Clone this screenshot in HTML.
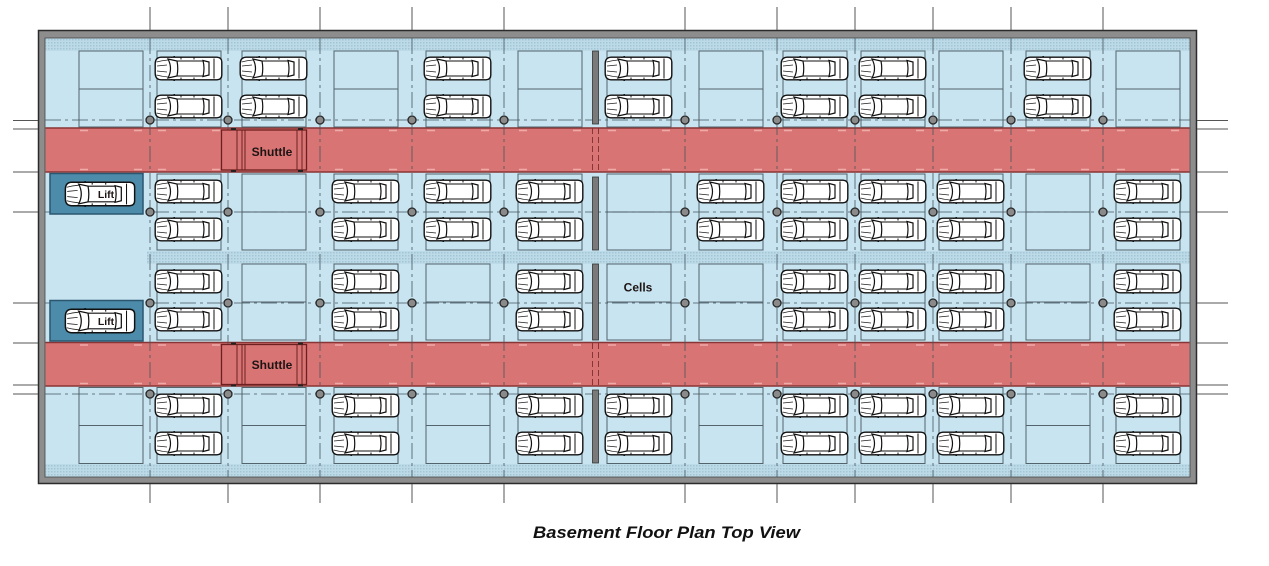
<!DOCTYPE html>
<html><head><meta charset="utf-8"><style>
html,body{margin:0;padding:0;background:#fff;}
svg{display:block;}
.cell{fill:none;stroke:#53646c;stroke-width:1;}
.gd{stroke:#46565e;stroke-width:0.8;fill:none;stroke-dasharray:16 4 3 4;}
.gs{stroke:#555;stroke-width:1;fill:none;}
.col{fill:#8a8a8a;stroke:#262626;stroke-width:1.3;}
.lbl{font-family:"Liberation Sans",Arial,sans-serif;font-weight:bold;fill:#1e1414;}
</style></head><body>
<svg width="1269" height="566" viewBox="0 0 1269 566" xmlns="http://www.w3.org/2000/svg" xmlns:xlink="http://www.w3.org/1999/xlink">
<defs>
<pattern id="hatch" width="3" height="3" patternUnits="userSpaceOnUse">
<rect width="3" height="3" fill="#bcdae7"/>
<rect width="1.5" height="1.5" fill="#a3c6d6"/>
</pattern>
<symbol id="car" viewBox="0 0 69 25">
<path d="M7,1.2 L63,1.2 Q67.8,1.5 67.8,6 L67.8,19 Q67.8,23.5 63,23.8 L7,23.8 Q1.2,23.5 1.2,17 L1.2,8 Q1.2,1.5 7,1.2Z" fill="#fff" stroke="#111" stroke-width="1.4"/>
<path d="M2.5,6 Q8,4.5 14,4 M2.5,19 Q8,20.5 14,21 M3,10 L13,9 M3,15 L13,16" stroke="#222" stroke-width="0.8" fill="none"/>
<path d="M14,3 Q19,12.5 14,22 L23,20 Q24.5,12.5 23,5 Z" fill="#fff" stroke="#111" stroke-width="1.2"/>
<path d="M23,5 L49,5 M23,20 L49,20" stroke="#111" stroke-width="1" fill="none"/>
<path d="M49,4.5 Q51,12.5 49,20.5 L55,19 L55,6 Z" fill="#fff" stroke="#111" stroke-width="1.2"/>
<path d="M60,2.5 L60,22.5 M27,1.2 L27,3.5 M40,1.2 L40,3.5 M27,23.8 L27,21.5 M40,23.8 L40,21.5 M17,1.5 L21,0.3 M17,23.5 L21,24.7" stroke="#111" stroke-width="1" fill="none"/>
</symbol>
<g id="co"><rect class="cell" x="0" y="0" width="64" height="76"/></g>
<g id="ce"><rect class="cell" x="0" y="0" width="64" height="76"/><line class="cell" x1="0" y1="38" x2="64" y2="38"/></g>
<g id="cp"><use href="#car" xlink:href="#car" x="-3" y="5" width="69" height="25"/><use href="#car" xlink:href="#car" x="-3" y="43" width="69" height="25"/></g>
<path id="pd" d="M80,0 h8 M134,0 h8 M158,0 h8 M212,0 h8 M243,0 h8 M297,0 h8 M335,0 h8 M389,0 h8 M427,0 h8 M481,0 h8 M519,0 h8 M573,0 h8 M608,0 h8 M662,0 h8 M700,0 h8 M754,0 h8 M784,0 h8 M838,0 h8 M862,0 h8 M916,0 h8 M940,0 h8 M994,0 h8 M1027,0 h8 M1081,0 h8 M1117,0 h8 M1171,0 h8" stroke="#efaaaa" stroke-width="1.6" fill="none"/>
<g id="shuttle">
<rect x="221.5" y="0" width="85" height="40" fill="#d87474" stroke="#6e2020" stroke-width="1.3"/>
<path d="M237,0 V40 M242,0 V40 M245,0 V40 M297,0 V40 M302,0 V40" stroke="#6e2020" stroke-width="1" fill="none"/>
<path d="M231,-1 h5 M298,-1 h5 M231,41 h5 M298,41 h5" stroke="#222" stroke-width="2"/>
</g>
</defs>

<rect x="38.5" y="30.5" width="1158" height="453" fill="#8d8d8d" stroke="#2b2b2b" stroke-width="1.5"/>
<rect x="45" y="38" width="1145" height="439" fill="#c7e4f0" stroke="#444" stroke-width="0.8"/>

<rect x="45.5" y="38.5" width="1144" height="12.5" fill="url(#hatch)"/>
<rect x="45.5" y="464" width="1144" height="12.5" fill="url(#hatch)"/>
<rect x="147" y="251" width="1042.5" height="13" fill="url(#hatch)"/>

<rect x="45.5" y="128" width="1144" height="44" fill="#d87474"/>
<rect x="45.5" y="342.5" width="1144" height="43.5" fill="#d87474"/>
<path d="M45.5,128 H1189.5 M45.5,172 H1189.5 M45.5,342.5 H1189.5 M45.5,386 H1189.5" stroke="#8a3535" stroke-width="1.6" fill="none"/>
<use href="#pd" xlink:href="#pd" y="130.5"/>
<use href="#pd" xlink:href="#pd" y="169.5"/>
<use href="#pd" xlink:href="#pd" y="345"/>
<use href="#pd" xlink:href="#pd" y="383.5"/>
<path d="M592.5,128 V172 M598.5,128 V172 M592.5,343 V386 M598.5,343 V386" stroke="#8a3535" stroke-width="1" stroke-dasharray="6 3" fill="none"/>

<use href="#co" xlink:href="#co" x="157" y="51"/><use href="#co" xlink:href="#co" x="242" y="51"/><use href="#co" xlink:href="#co" x="426" y="51"/><use href="#co" xlink:href="#co" x="607" y="51"/><use href="#co" xlink:href="#co" x="783" y="51"/><use href="#co" xlink:href="#co" x="861" y="51"/><use href="#co" xlink:href="#co" x="1026" y="51"/>
<use href="#ce" xlink:href="#ce" x="79" y="51"/><use href="#ce" xlink:href="#ce" x="334" y="51"/><use href="#ce" xlink:href="#ce" x="518" y="51"/><use href="#ce" xlink:href="#ce" x="699" y="51"/><use href="#ce" xlink:href="#ce" x="939" y="51"/><use href="#ce" xlink:href="#ce" x="1116" y="51"/>
<use href="#co" xlink:href="#co" x="157" y="174"/><use href="#co" xlink:href="#co" x="334" y="174"/><use href="#co" xlink:href="#co" x="426" y="174"/><use href="#co" xlink:href="#co" x="518" y="174"/><use href="#co" xlink:href="#co" x="699" y="174"/><use href="#co" xlink:href="#co" x="783" y="174"/><use href="#co" xlink:href="#co" x="861" y="174"/><use href="#co" xlink:href="#co" x="939" y="174"/><use href="#co" xlink:href="#co" x="1116" y="174"/>
<use href="#ce" xlink:href="#ce" x="242" y="174"/><use href="#ce" xlink:href="#ce" x="607" y="174"/><use href="#ce" xlink:href="#ce" x="1026" y="174"/>
<use href="#co" xlink:href="#co" x="157" y="264"/><use href="#co" xlink:href="#co" x="334" y="264"/><use href="#co" xlink:href="#co" x="518" y="264"/><use href="#co" xlink:href="#co" x="783" y="264"/><use href="#co" xlink:href="#co" x="861" y="264"/><use href="#co" xlink:href="#co" x="939" y="264"/><use href="#co" xlink:href="#co" x="1116" y="264"/>
<use href="#ce" xlink:href="#ce" x="242" y="264"/><use href="#ce" xlink:href="#ce" x="426" y="264"/><use href="#ce" xlink:href="#ce" x="607" y="264"/><use href="#ce" xlink:href="#ce" x="699" y="264"/><use href="#ce" xlink:href="#ce" x="1026" y="264"/>
<use href="#co" xlink:href="#co" x="157" y="387.5"/><use href="#co" xlink:href="#co" x="334" y="387.5"/><use href="#co" xlink:href="#co" x="518" y="387.5"/><use href="#co" xlink:href="#co" x="607" y="387.5"/><use href="#co" xlink:href="#co" x="783" y="387.5"/><use href="#co" xlink:href="#co" x="861" y="387.5"/><use href="#co" xlink:href="#co" x="939" y="387.5"/><use href="#co" xlink:href="#co" x="1116" y="387.5"/>
<use href="#ce" xlink:href="#ce" x="79" y="387.5"/><use href="#ce" xlink:href="#ce" x="242" y="387.5"/><use href="#ce" xlink:href="#ce" x="426" y="387.5"/><use href="#ce" xlink:href="#ce" x="699" y="387.5"/><use href="#ce" xlink:href="#ce" x="1026" y="387.5"/>

<path class="gd" d="M45,120 H1190 M45,212 H1190 M45,303 H1190 M45,394 H1190"/>
<path class="gd" d="M150,38 V477 M228,38 V477 M320,38 V477 M412,38 V477 M504,38 V477 M685,38 V477 M777,38 V477 M855,38 V477 M933,38 V477 M1011,38 V477 M1103,38 V477"/>
<path class="gs" d="M150,7 V30 M228,7 V30 M320,7 V30 M412,7 V30 M504,7 V30 M685,7 V30 M777,7 V30 M855,7 V30 M933,7 V30 M1011,7 V30 M1103,7 V30"/>
<path class="gs" d="M150,484 V503 M228,484 V503 M320,484 V503 M412,484 V503 M504,484 V503 M685,484 V503 M777,484 V503 M855,484 V503 M933,484 V503 M1011,484 V503 M1103,484 V503"/>
<path class="gs" d="M13,120.5 H38 M13,129 H38 M13,172 H38 M13,212 H38 M13,303 H38 M13,343 H38 M13,385 H38 M13,394 H38"/>
<path class="gs" d="M1197,120.5 H1228 M1197,129 H1228 M1197,172 H1228 M1197,212 H1228 M1197,303 H1228 M1197,343 H1228 M1197,385 H1228 M1197,394 H1228"/>

<g fill="#7a7a7a" stroke="#333" stroke-width="0.8">
<rect x="592.5" y="51" width="6" height="73"/>
<rect x="592.5" y="177" width="6" height="73"/>
<rect x="592.5" y="264" width="6" height="76"/>
<rect x="592.5" y="390" width="6" height="73"/>
</g>

<g class="col">
<circle cx="150" cy="120" r="4"/><circle cx="228" cy="120" r="4"/><circle cx="320" cy="120" r="4"/><circle cx="412" cy="120" r="4"/><circle cx="504" cy="120" r="4"/><circle cx="685" cy="120" r="4"/><circle cx="777" cy="120" r="4"/><circle cx="855" cy="120" r="4"/><circle cx="933" cy="120" r="4"/><circle cx="1011" cy="120" r="4"/><circle cx="1103" cy="120" r="4"/>
<circle cx="150" cy="212" r="4"/><circle cx="228" cy="212" r="4"/><circle cx="320" cy="212" r="4"/><circle cx="412" cy="212" r="4"/><circle cx="504" cy="212" r="4"/><circle cx="685" cy="212" r="4"/><circle cx="777" cy="212" r="4"/><circle cx="855" cy="212" r="4"/><circle cx="933" cy="212" r="4"/><circle cx="1011" cy="212" r="4"/><circle cx="1103" cy="212" r="4"/>
<circle cx="150" cy="303" r="4"/><circle cx="228" cy="303" r="4"/><circle cx="320" cy="303" r="4"/><circle cx="412" cy="303" r="4"/><circle cx="504" cy="303" r="4"/><circle cx="685" cy="303" r="4"/><circle cx="777" cy="303" r="4"/><circle cx="855" cy="303" r="4"/><circle cx="933" cy="303" r="4"/><circle cx="1011" cy="303" r="4"/><circle cx="1103" cy="303" r="4"/>
<circle cx="150" cy="394" r="4"/><circle cx="228" cy="394" r="4"/><circle cx="320" cy="394" r="4"/><circle cx="412" cy="394" r="4"/><circle cx="504" cy="394" r="4"/><circle cx="685" cy="394" r="4"/><circle cx="777" cy="394" r="4"/><circle cx="855" cy="394" r="4"/><circle cx="933" cy="394" r="4"/><circle cx="1011" cy="394" r="4"/><circle cx="1103" cy="394" r="4"/>
</g>

<use href="#cp" xlink:href="#cp" x="157" y="51"/><use href="#cp" xlink:href="#cp" x="242" y="51"/><use href="#cp" xlink:href="#cp" x="426" y="51"/><use href="#cp" xlink:href="#cp" x="607" y="51"/><use href="#cp" xlink:href="#cp" x="783" y="51"/><use href="#cp" xlink:href="#cp" x="861" y="51"/><use href="#cp" xlink:href="#cp" x="1026" y="51"/>
<use href="#cp" xlink:href="#cp" x="157" y="174"/><use href="#cp" xlink:href="#cp" x="334" y="174"/><use href="#cp" xlink:href="#cp" x="426" y="174"/><use href="#cp" xlink:href="#cp" x="518" y="174"/><use href="#cp" xlink:href="#cp" x="699" y="174"/><use href="#cp" xlink:href="#cp" x="783" y="174"/><use href="#cp" xlink:href="#cp" x="861" y="174"/><use href="#cp" xlink:href="#cp" x="939" y="174"/><use href="#cp" xlink:href="#cp" x="1116" y="174"/>
<use href="#cp" xlink:href="#cp" x="157" y="264"/><use href="#cp" xlink:href="#cp" x="334" y="264"/><use href="#cp" xlink:href="#cp" x="518" y="264"/><use href="#cp" xlink:href="#cp" x="783" y="264"/><use href="#cp" xlink:href="#cp" x="861" y="264"/><use href="#cp" xlink:href="#cp" x="939" y="264"/><use href="#cp" xlink:href="#cp" x="1116" y="264"/>
<use href="#cp" xlink:href="#cp" x="157" y="388"/><use href="#cp" xlink:href="#cp" x="334" y="388"/><use href="#cp" xlink:href="#cp" x="518" y="388"/><use href="#cp" xlink:href="#cp" x="607" y="388"/><use href="#cp" xlink:href="#cp" x="783" y="388"/><use href="#cp" xlink:href="#cp" x="861" y="388"/><use href="#cp" xlink:href="#cp" x="939" y="388"/><use href="#cp" xlink:href="#cp" x="1116" y="388"/>

<rect x="50" y="173.5" width="93" height="40.5" fill="#4c8caa" stroke="#2a5670" stroke-width="1.5"/>
<use href="#car" xlink:href="#car" x="63" y="181" width="74" height="26"/>
<text class="lbl" x="106" y="198" font-size="10.5" text-anchor="middle">Lift</text>
<rect x="50" y="300.5" width="93" height="40.5" fill="#4c8caa" stroke="#2a5670" stroke-width="1.5"/>
<use href="#car" xlink:href="#car" x="63" y="308" width="74" height="26"/>
<text class="lbl" x="106" y="325" font-size="10.5" text-anchor="middle">Lift</text>

<use href="#shuttle" xlink:href="#shuttle" y="130"/>
<text class="lbl" x="272" y="156" font-size="12" text-anchor="middle">Shuttle</text>
<use href="#shuttle" xlink:href="#shuttle" y="344.5"/>
<text class="lbl" x="272" y="369" font-size="12" text-anchor="middle">Shuttle</text>

<text class="lbl" x="638" y="291.5" font-size="12" text-anchor="middle" fill="#222">Cells</text>

<text x="666.5" y="538" font-family="Liberation Sans, Arial, sans-serif" font-size="17" font-weight="bold" font-style="italic" fill="#111" text-anchor="middle" textLength="267" lengthAdjust="spacingAndGlyphs">Basement Floor Plan Top View</text>
</svg>
</body></html>
